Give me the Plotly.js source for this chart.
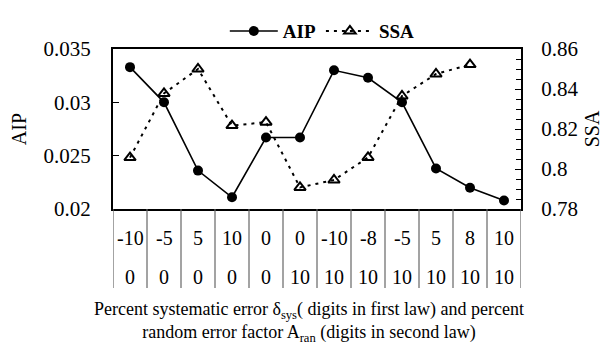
<!DOCTYPE html>
<html>
<head>
<meta charset="utf-8">
<script src="https://cdn.plot.ly/plotly-3.0.1.min.js"></script>
<style>html,body{margin:0;padding:0;background:#fff;}#chart{width:608px;height:352px;}</style>
</head>
<body>
<div id="chart"></div>
<script>
// Data
var sysErr = ["-10", "-5", "5", "10", "0", "0", "-10", "-8", "-5", "5", "8", "10"];
var ranErr = ["0", "0", "0", "0", "0", "10", "10", "10", "10", "10", "10", "10"];
var aipValues = [0.0333, 0.0300, 0.0236, 0.0211, 0.0267, 0.0267, 0.0330, 0.0323, 0.0300, 0.0238, 0.0220, 0.0208];
var ssaValues = [0.8057, 0.8378, 0.8500, 0.8217, 0.8234, 0.7908, 0.7945, 0.8058, 0.8365, 0.8475, 0.8522, null];

var FONT = "'Liberation Serif', 'Times New Roman', Times, serif";
var idx = sysErr.map(function (_, i) { return i; });

var traces = [
  {
    x: idx, y: aipValues, name: "AIP", type: "scatter", mode: "lines+markers",
    line: {color: "black", width: 1.6},
    marker: {symbol: "circle", size: 10, color: "black"},
    cliponaxis: false, hoverinfo: "skip"
  },
  {
    x: idx, y: ssaValues, name: "SSA", type: "scatter", mode: "lines+markers", yaxis: "y2",
    line: {color: "black", width: 2, dash: "3px,5px"},
    marker: {symbol: "triangle-up-open", size: 10, color: "black", line: {color: "black", width: 2}},
    cliponaxis: false, hoverinfo: "skip", connectgaps: false
  }
];

var rowY1 = -0.182, rowY2 = -0.428, tableBottom = -0.494;
var annotations = [];
var shapes = [];
idx.forEach(function (i) {
  annotations.push({x: i, y: rowY1, xref: "x", yref: "paper", text: sysErr[i], showarrow: false,
    font: {family: FONT, size: 20, color: "black"}, xanchor: "center", yanchor: "middle"});
  annotations.push({x: i, y: rowY2, xref: "x", yref: "paper", text: ranErr[i], showarrow: false,
    font: {family: FONT, size: 20, color: "black"}, xanchor: "center", yanchor: "middle"});
});
for (var k = 0; k <= sysErr.length; k++) {
  shapes.push({type: "line", xref: "x", yref: "paper", x0: k - 0.5, x1: k - 0.5, y0: 0, y1: tableBottom,
    line: {color: "#666", width: 1.2}});
}
annotations.push({
  x: 0.48, y: -0.706, xref: "paper", yref: "paper", showarrow: false, xanchor: "center", yanchor: "middle",
  align: "center",
  text: "Percent systematic error δ<sub>sys</sub>( digits in first law) and percent<br>random error factor A<sub>ran</sub> (digits in second law)",
  font: {family: FONT, size: 18, color: "black"}
});

var layout = {
  width: 608, height: 352,
  margin: {l: 113, r: 87, t: 39, b: 143, pad: 0},
  paper_bgcolor: "white", plot_bgcolor: "white",
  font: {family: FONT, color: "black"},
  showlegend: true,
  legend: {orientation: "h", x: 0.513, xanchor: "center", y: 1.112, yanchor: "middle", itemwidth: 48,
    font: {family: FONT, size: 19, color: "black", weight: "bold"}, bgcolor: "rgba(0,0,0,0)"},
  xaxis: {range: [-0.5, 11.5], showticklabels: false, ticks: "", showgrid: false, zeroline: false,
    showline: true, mirror: true, linecolor: "black", linewidth: 2},
  yaxis: {range: [0.02, 0.035], dtick: 0.005, tick0: 0.02, showgrid: false, zeroline: false,
    showline: true, linecolor: "black", linewidth: 2, ticks: "inside", ticklen: 6, tickcolor: "black",
    ticklabelstandoff: 16,
    tickfont: {family: FONT, size: 21, color: "black"},
    title: {text: "AIP", font: {family: FONT, size: 20, color: "black"}, standoff: 12}},
  yaxis2: {range: [0.78, 0.86], dtick: 0.02, tick0: 0.78, overlaying: "y", side: "right", showgrid: false,
    zeroline: false, showline: true, linecolor: "black", linewidth: 2, ticks: "inside", ticklen: 6,
    tickcolor: "black", ticklabelstandoff: 14,
    minor: {dtick: 0.005, ticks: "inside", ticklen: 5, tickcolor: "black", showgrid: false},
    tickfont: {family: FONT, size: 21, color: "black"},
    title: {text: "SSA", font: {family: FONT, size: 20, color: "black"}, standoff: 8}},
  annotations: annotations,
  shapes: shapes
};

Plotly.newPlot("chart", traces, layout, {staticPlot: true, displayModeBar: false});
</script>
</body>
</html>
